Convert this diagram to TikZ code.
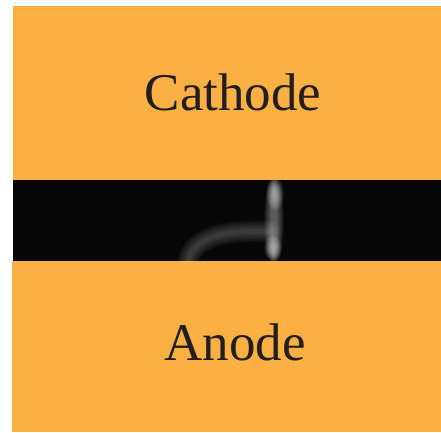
\documentclass[tikz,border=0pt]{standalone}
\usepackage{fontspec}
\setmainfont{Liberation Serif}
\definecolor{electrode}{RGB}{250,176,66}
\definecolor{gap}{RGB}{5,6,5}
\definecolor{labeltext}{RGB}{35,31,32}
\tikzset{
  plate/.style={fill=electrode,draw=none},
  platelabel/.style={font=\fontsize{53}{60}\selectfont,text=labeltext,inner sep=0pt,anchor=base},
  glow/.style={white,line cap=round}
}
\begin{document}
\begin{tikzpicture}[x=1pt,y=-1pt]
  \useasboundingbox (0,0) rectangle (441,432);
  % electrodes and the gap between them
  \fill[plate] (13,6) rectangle (441,180);
  \fill[gap] (13,180) rectangle (441,261);
  \fill[plate] (12,261) rectangle (441,432);
  \node[platelabel] (cathode) at (233,110) {Cathode};
  \node[platelabel] (anode) at (235,360) {Anode};
  % discharge glow, built up from faint layers
  \begin{scope}
    \clip (13,180) rectangle (441,261);
    \foreach \w in {22,19,...,4}
      \draw[glow,line width=\w pt,opacity=0.035] (188,262) .. controls (192,236) and (230,229) .. (270,232);
    \foreach \i in {0,...,9}
      \fill[glow,opacity=0.045] (274,221) ellipse ({10-0.8*\i} and {44-1.2*\i});
    \foreach \i in {0,...,9}
      \fill[glow,opacity=0.05] (275,194) ellipse ({9-0.7*\i} and {17-1.3*\i});
    \foreach \i in {0,...,9}
      \fill[glow,opacity=0.06] (273,248) ellipse ({9-0.7*\i} and {13-1*\i});
  \end{scope}
\end{tikzpicture}
\end{document}
